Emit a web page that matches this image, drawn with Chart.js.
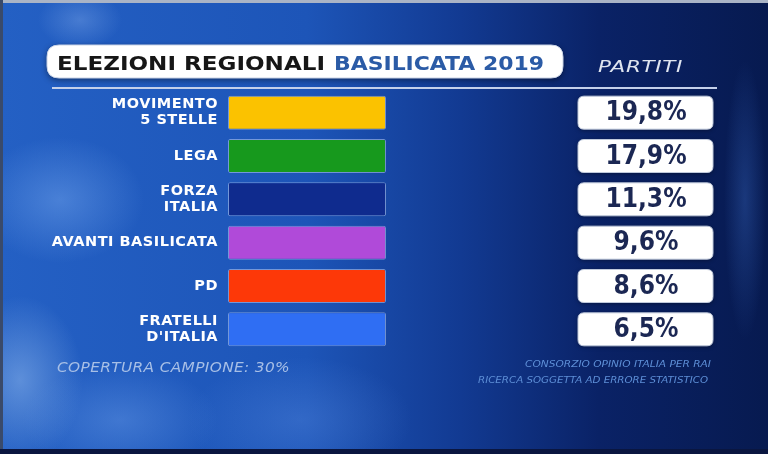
<!DOCTYPE html>
<html>
<head>
<meta charset="utf-8">
<script src="https://cdn.jsdelivr.net/npm/chart.js@4.4.1/dist/chart.umd.min.js"></script>
<style>
  html, body { margin: 0; padding: 0; }
  body {
    width: 768px; height: 454px; overflow: hidden; position: relative;
    background:
      radial-gradient(ellipse 120px 90px at 60px 200px, rgba(120,170,240,0.45), rgba(120,170,240,0) 70%),
      radial-gradient(ellipse 140px 80px at 120px 420px, rgba(110,160,235,0.4), rgba(110,160,235,0) 70%),
      radial-gradient(ellipse 90px 120px at 20px 380px, rgba(150,190,240,0.5), rgba(150,190,240,0) 70%),
      radial-gradient(ellipse 160px 90px at 300px 420px, rgba(90,140,225,0.35), rgba(90,140,225,0) 70%),
      radial-gradient(ellipse 60px 40px at 80px 20px, rgba(140,180,240,0.35), rgba(140,180,240,0) 70%),
      radial-gradient(ellipse 30px 200px at 745px 200px, rgba(60,110,200,0.35), rgba(60,110,200,0) 70%),
      linear-gradient(90deg, #2460c4 0%, #1d55b8 40%, #123a92 60%, #0a2266 78%, #071a50 100%);
  }
  .frame-top { position: absolute; left: 0; top: 0; width: 768px; height: 3px; background: #aab4c6; }
  .frame-left { position: absolute; left: 0; top: 0; width: 3px; height: 454px; background: #3a4a6a; }
  .frame-bottom { position: absolute; left: 0; bottom: 0; width: 768px; height: 5px; background: #0a1640; }
  canvas { position: absolute; left: 0; top: 0; }
</style>
</head>
<body>
<div class="frame-top"></div>
<div class="frame-left"></div>
<div class="frame-bottom"></div>
<canvas id="chart" width="768" height="454"></canvas>
<script>
// --- Data ---
const parties = ['MOVIMENTO\n5 STELLE', 'LEGA', 'FORZA\nITALIA', 'AVANTI BASILICATA', 'PD', "FRATELLI\nD'ITALIA"];
const shares = [19.8, 17.9, 11.3, 9.6, 8.6, 6.5];
// the coloured blocks in the graphic all have the same length
const blockLength = [1, 1, 1, 1, 1, 1];
const partyColors = ['#fbc200', '#17991d', '#0f2b8e', '#b04ad9', '#fd3808', '#2f6ef3'];

const titleBlack = 'ELEZIONI REGIONALI';
const titleBlue = 'BASILICATA 2019';
const columnHeader = 'PARTITI';
const coverageNote = 'COPERTURA CAMPIONE: 30%';
const sourceLines = ['CONSORZIO OPINIO ITALIA PER RAI', 'RICERCA SOGGETTA AD ERRORE STATISTICO'];

// --- helpers ---
function roundRect(ctx, x, y, w, h, r) {
    ctx.beginPath();
    ctx.moveTo(x + r, y);
    ctx.lineTo(x + w - r, y);
    ctx.quadraticCurveTo(x + w, y, x + w, y + r);
    ctx.lineTo(x + w, y + h - r);
    ctx.quadraticCurveTo(x + w, y + h, x + w - r, y + h);
    ctx.lineTo(x + r, y + h);
    ctx.quadraticCurveTo(x, y + h, x, y + h - r);
    ctx.lineTo(x, y + r);
    ctx.quadraticCurveTo(x, y, x + r, y);
    ctx.closePath();
}

// draw text stretched horizontally to a target width (the TV font is wide)
function fitText(ctx, text, x, y, targetWidth, align, spacing) {
    ctx.letterSpacing = (spacing || 0) + 'px';
    ctx.textAlign = 'left';
    const w = ctx.measureText(text).width;
    const k = targetWidth / w;
    ctx.save();
    ctx.translate(align === 'right' ? x - targetWidth : x, y);
    ctx.scale(k, 1);
    ctx.fillText(text, 0, 0);
    ctx.restore();
    ctx.letterSpacing = '0px';
}

// --- header, value boxes, notes ---
const decorPlugin = {
    id: 'decor',
    beforeDraw(chart) {
        const ctx = chart.ctx;
        ctx.save();
        // title box
        ctx.shadowColor = 'rgba(0,0,0,0.45)';
        ctx.shadowBlur = 6;
        ctx.shadowOffsetY = 2;
        ctx.fillStyle = '#ffffff';
        roundRect(ctx, 47, 45, 516, 33, 12);
        ctx.fill();
        ctx.shadowColor = 'transparent';
        ctx.strokeStyle = '#c9d3e6';
        ctx.lineWidth = 1;
        ctx.stroke();

        ctx.textBaseline = 'alphabetic';
        ctx.font = 'bold 20px "DejaVu Sans"';
        ctx.fillStyle = '#161616';
        fitText(ctx, titleBlack, 57, 69.5, 268);
        ctx.fillStyle = '#2b5ba6';
        fitText(ctx, titleBlue, 334, 69.5, 210);

        // column header
        ctx.font = 'italic 16.5px "DejaVu Sans"';
        ctx.fillStyle = '#dfe5f0';
        fitText(ctx, columnHeader, 598, 72, 85, 'left', 0.5);

        // separator line
        ctx.strokeStyle = '#c4d0ea';
        ctx.lineWidth = 2;
        ctx.beginPath();
        ctx.moveTo(52, 88);
        ctx.lineTo(717, 88);
        ctx.stroke();

        // notes
        ctx.font = 'italic 13.5px "DejaVu Sans"';
        ctx.fillStyle = '#a7bfe6';
        fitText(ctx, coverageNote, 57, 372, 233, 'left', 0.3);

        ctx.font = 'italic 8.5px "DejaVu Sans"';
        ctx.fillStyle = '#5d8ed6';
        fitText(ctx, sourceLines[0], 711, 367, 186, 'right');
        fitText(ctx, sourceLines[1], 708, 383, 230, 'right');
        ctx.restore();

        // slight letter spacing for the party labels drawn by the y axis
        ctx.letterSpacing = '0.5px';
    },
    afterDatasetsDraw(chart) {
        const ctx = chart.ctx;
        ctx.save();
        ctx.letterSpacing = '0px';
        const meta = chart.getDatasetMeta(0);
        meta.data.forEach((bar, i) => {
            const y = bar.y;
            ctx.shadowColor = 'rgba(0,0,0,0.4)';
            ctx.shadowBlur = 4;
            ctx.shadowOffsetY = 1;
            ctx.fillStyle = '#ffffff';
            roundRect(ctx, 578, y - 16.5, 135, 33, 6);
            ctx.fill();
            ctx.shadowColor = 'transparent';
            ctx.strokeStyle = '#bfc9dc';
            ctx.lineWidth = 1;
            ctx.stroke();

            // value, slightly condensed DejaVu to mimic the broadcast face
            ctx.font = 'bold 26px "DejaVu Sans"';
            ctx.fillStyle = '#1b2753';
            ctx.textAlign = 'center';
            ctx.textBaseline = 'middle';
            const label = shares[i].toFixed(1).replace('.', ',') + '%';
            ctx.save();
            ctx.translate(646, y + 1);
            ctx.scale(0.9, 1);
            ctx.fillText(label, 0, 0);
            ctx.restore();
        });
        ctx.restore();
    }
};

new Chart(document.getElementById('chart'), {
    type: 'bar',
    data: {
        labels: parties.map(p => p.split('\n')),
        datasets: [{
            label: 'Partiti',
            data: blockLength,
            backgroundColor: partyColors,
            borderColor: 'rgba(220,230,255,0.45)',
            borderWidth: 1,
            borderRadius: 2,
            borderSkipped: false,
            categoryPercentage: 1,
            barPercentage: 0.785
        }]
    },
    options: {
        indexAxis: 'y',
        responsive: false,
        animation: false,
        events: [],
        layout: { padding: { top: 91, bottom: 103, left: 0, right: 382 } },
        plugins: { legend: { display: false }, tooltip: { enabled: false } },
        scales: {
            x: { display: false, min: 0, max: 1 },
            y: {
                afterFit(scale) { scale.width = 228; },
                grid: { display: false, drawTicks: false },
                border: { display: false },
                ticks: {
                    color: '#ffffff',
                    padding: 10,
                    font: { family: '"DejaVu Sans"', size: 14.5, weight: 'bold', lineHeight: 1.1 }
                }
            }
        }
    },
    plugins: [decorPlugin]
});
</script>
</body>
</html>
